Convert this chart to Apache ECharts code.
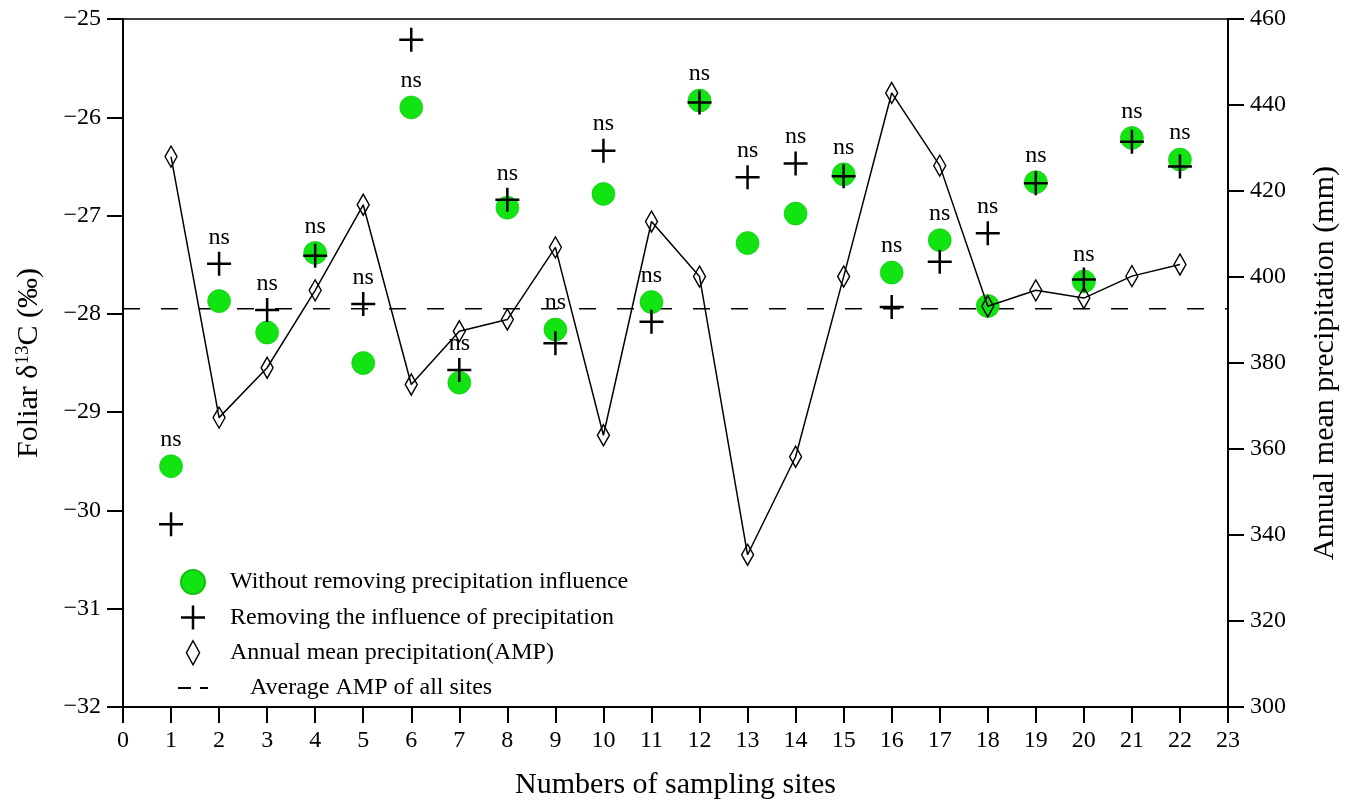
<!DOCTYPE html>
<html>
<head>
<meta charset="utf-8">
<script src="https://cdn.jsdelivr.net/npm/echarts@6/dist/echarts.min.js"></script>
<style>html,body{margin:0;padding:0;background:#fff;}#c{width:1352px;height:805px;}</style>
</head>
<body>
<div id="c"></div>
<script>
const sites = [1,2,3,4,5,6,7,8,9,10,11,12,13,14,15,16,17,18,19,20,21,22];
const d13cWithout = [-29.55,-27.87,-28.19,-27.38,-28.50,-25.90,-28.70,-26.92,-28.16,-26.78,-27.88,-25.83,-27.28,-26.98,-26.58,-27.58,-27.25,-27.92,-26.66,-27.67,-26.21,-26.43];
const d13cRemoved = [-30.14,-27.49,-27.96,-27.41,-27.90,-25.21,-28.57,-26.84,-28.30,-26.34,-28.08,-25.85,-26.61,-26.47,-26.60,-27.93,-27.47,-27.18,-26.67,-27.65,-26.25,-26.50];
const amp = [428.0,367.3,378.9,396.9,416.8,375.0,387.4,390.1,406.9,363.2,412.9,400.1,335.4,358.2,400.1,442.8,425.9,393.2,396.9,395.1,400.2,402.9];
const avgAMP = [392.6, 392.6];
const avgAMPx = [0, 23];
// which marker carries the "ns" label at each site: c = circle series, p = plus series
const nsOn = ['c','p','p','c','p','c','p','p','c','p','c','c','p','p','c','c','c','p','c','c','c','c'];
const nsText = 'ns';
const names = ['Without removing precipitation influence','Removing the influence of precipitation','Annual mean precipitation(AMP)','Average AMP of all sites'];

const FONT = 'Liberation Serif, Times New Roman, serif';
const chart = echarts.init(document.getElementById('c'));
const minus = v => String(v).replace('-', '\u2212');
const plusPath = 'path://M10.75,0h2.5v24h-2.5zM0,10.75h24v2.5h-24z';
const tallDiamond = 'path://M6,0L12,11L6,22L0,11Z';

chart.setOption({
  animation: false,
  backgroundColor: '#fff',
  grid: {left:123, right:124, top:19, bottom:97, show:true, borderColor:'#000', borderWidth:1.5, backgroundColor:'transparent'},
  legend: {
    orient:'vertical', left:172, top:564, itemWidth:30, itemHeight:24, itemGap:10.5,
    textStyle:{fontFamily:FONT, fontSize:24, color:'#000', padding:[0,0,0,17]},
    data:[
      {name:names[0]},
      {name:names[1]},
      {name:names[2], icon: tallDiamond, itemStyle:{color:'rgba(255,255,255,0)', borderColor:'#000', borderWidth:1.5}},
      {name:names[3], lineStyle:{type:[13,9], width:2}, itemStyle:{color:'rgba(0,0,0,0)', borderColor:'rgba(0,0,0,0)', borderWidth:0}, textStyle:{padding:[0,0,0,37]}}
    ]
  },
  xAxis: {
    type:'value', min:0, max:23, interval:1,
    name:'Numbers of sampling sites', nameLocation:'middle', nameGap:63,
    nameTextStyle:{fontFamily:FONT, fontSize:30, color:'#000'},
    axisLine:{show:true, lineStyle:{color:'#000', width:2}},
    axisTick:{show:true, length:16, lineStyle:{color:'#000', width:2}},
    axisLabel:{margin:22, fontFamily:FONT, fontSize:24, color:'#000'},
    splitLine:{show:false}
  },
  yAxis: [
    {
      type:'value', min:-32, max:-25, interval:1, position:'left',
      name:'{a|Foliar δ}{s|13}{a|C (‰)}', nameLocation:'middle', nameGap:78, nameRotate:90,
      nameTextStyle:{rich:{a:{fontFamily:FONT, fontSize:30, color:'#000'}, s:{fontFamily:FONT, fontSize:19, color:'#000', verticalAlign:'top', padding:[0,0,12,0]}}},
      axisLine:{show:true, lineStyle:{color:'#000', width:2}},
      axisTick:{show:true, length:16, lineStyle:{color:'#000', width:2}},
      axisLabel:{margin:22, fontFamily:FONT, fontSize:24, color:'#000', formatter: minus},
      splitLine:{show:false}
    },
    {
      type:'value', min:300, max:460, interval:20, position:'right',
      name:'Annual mean precipitation (mm)', nameLocation:'middle', nameGap:82, nameRotate:90,
      nameTextStyle:{fontFamily:FONT, fontSize:30, color:'#000'},
      axisLine:{show:true, lineStyle:{color:'#000', width:2}},
      axisTick:{show:true, length:16, lineStyle:{color:'#000', width:2}},
      axisLabel:{margin:22, fontFamily:FONT, fontSize:24, color:'#000'},
      splitLine:{show:false}
    }
  ],
  series: [
    {
      name: names[3], type:'line', yAxisIndex:1, symbol:'none', z:1,
      data: avgAMPx.map((x,i)=>[x, avgAMP[i]]),
      lineStyle:{color:'#000', width:1.6, type:[17,21]},
      itemStyle:{color:'#000'}
    },
    {
      name: names[0], type:'scatter', yAxisIndex:0, symbol:'circle', symbolSize:23, z:2,
      itemStyle:{color:'#12e412', borderColor:'#10c010', borderWidth:0.6, opacity:1},
      data: sites.map((s,i)=>[s, d13cWithout[i]])
    },
    {
      name: names[2], type:'line', yAxisIndex:1, symbol:'diamond', symbolSize:[12,21], showAllSymbol:true, z:3,
      lineStyle:{color:'#000', width:1.5},
      itemStyle:{color:'rgba(255,255,255,0)', borderColor:'#000', borderWidth:1.5},
      data: sites.map((s,i)=>[s, amp[i]])
    },
    {
      name: names[1], type:'scatter', yAxisIndex:0, symbol:plusPath, symbolSize:24, z:4,
      itemStyle:{color:'#000', opacity:1},
      data: sites.map((s,i)=>[s, d13cRemoved[i]])
    },
    {
      name: 'nsLabels', type:'scatter', yAxisIndex:0, symbol:'circle', symbolSize:23, z:5, silent:true,
      itemStyle:{color:'rgba(0,0,0,0)'},
      label:{show:true, position:'top', distance:3, formatter: nsText, fontFamily: FONT, fontSize: 24, color:'#000', opacity:1},
      data: sites.map((s,i)=>[s, nsOn[i]==='c' ? d13cWithout[i] : d13cRemoved[i]])
    }
  ]
});
</script>
</body>
</html>
